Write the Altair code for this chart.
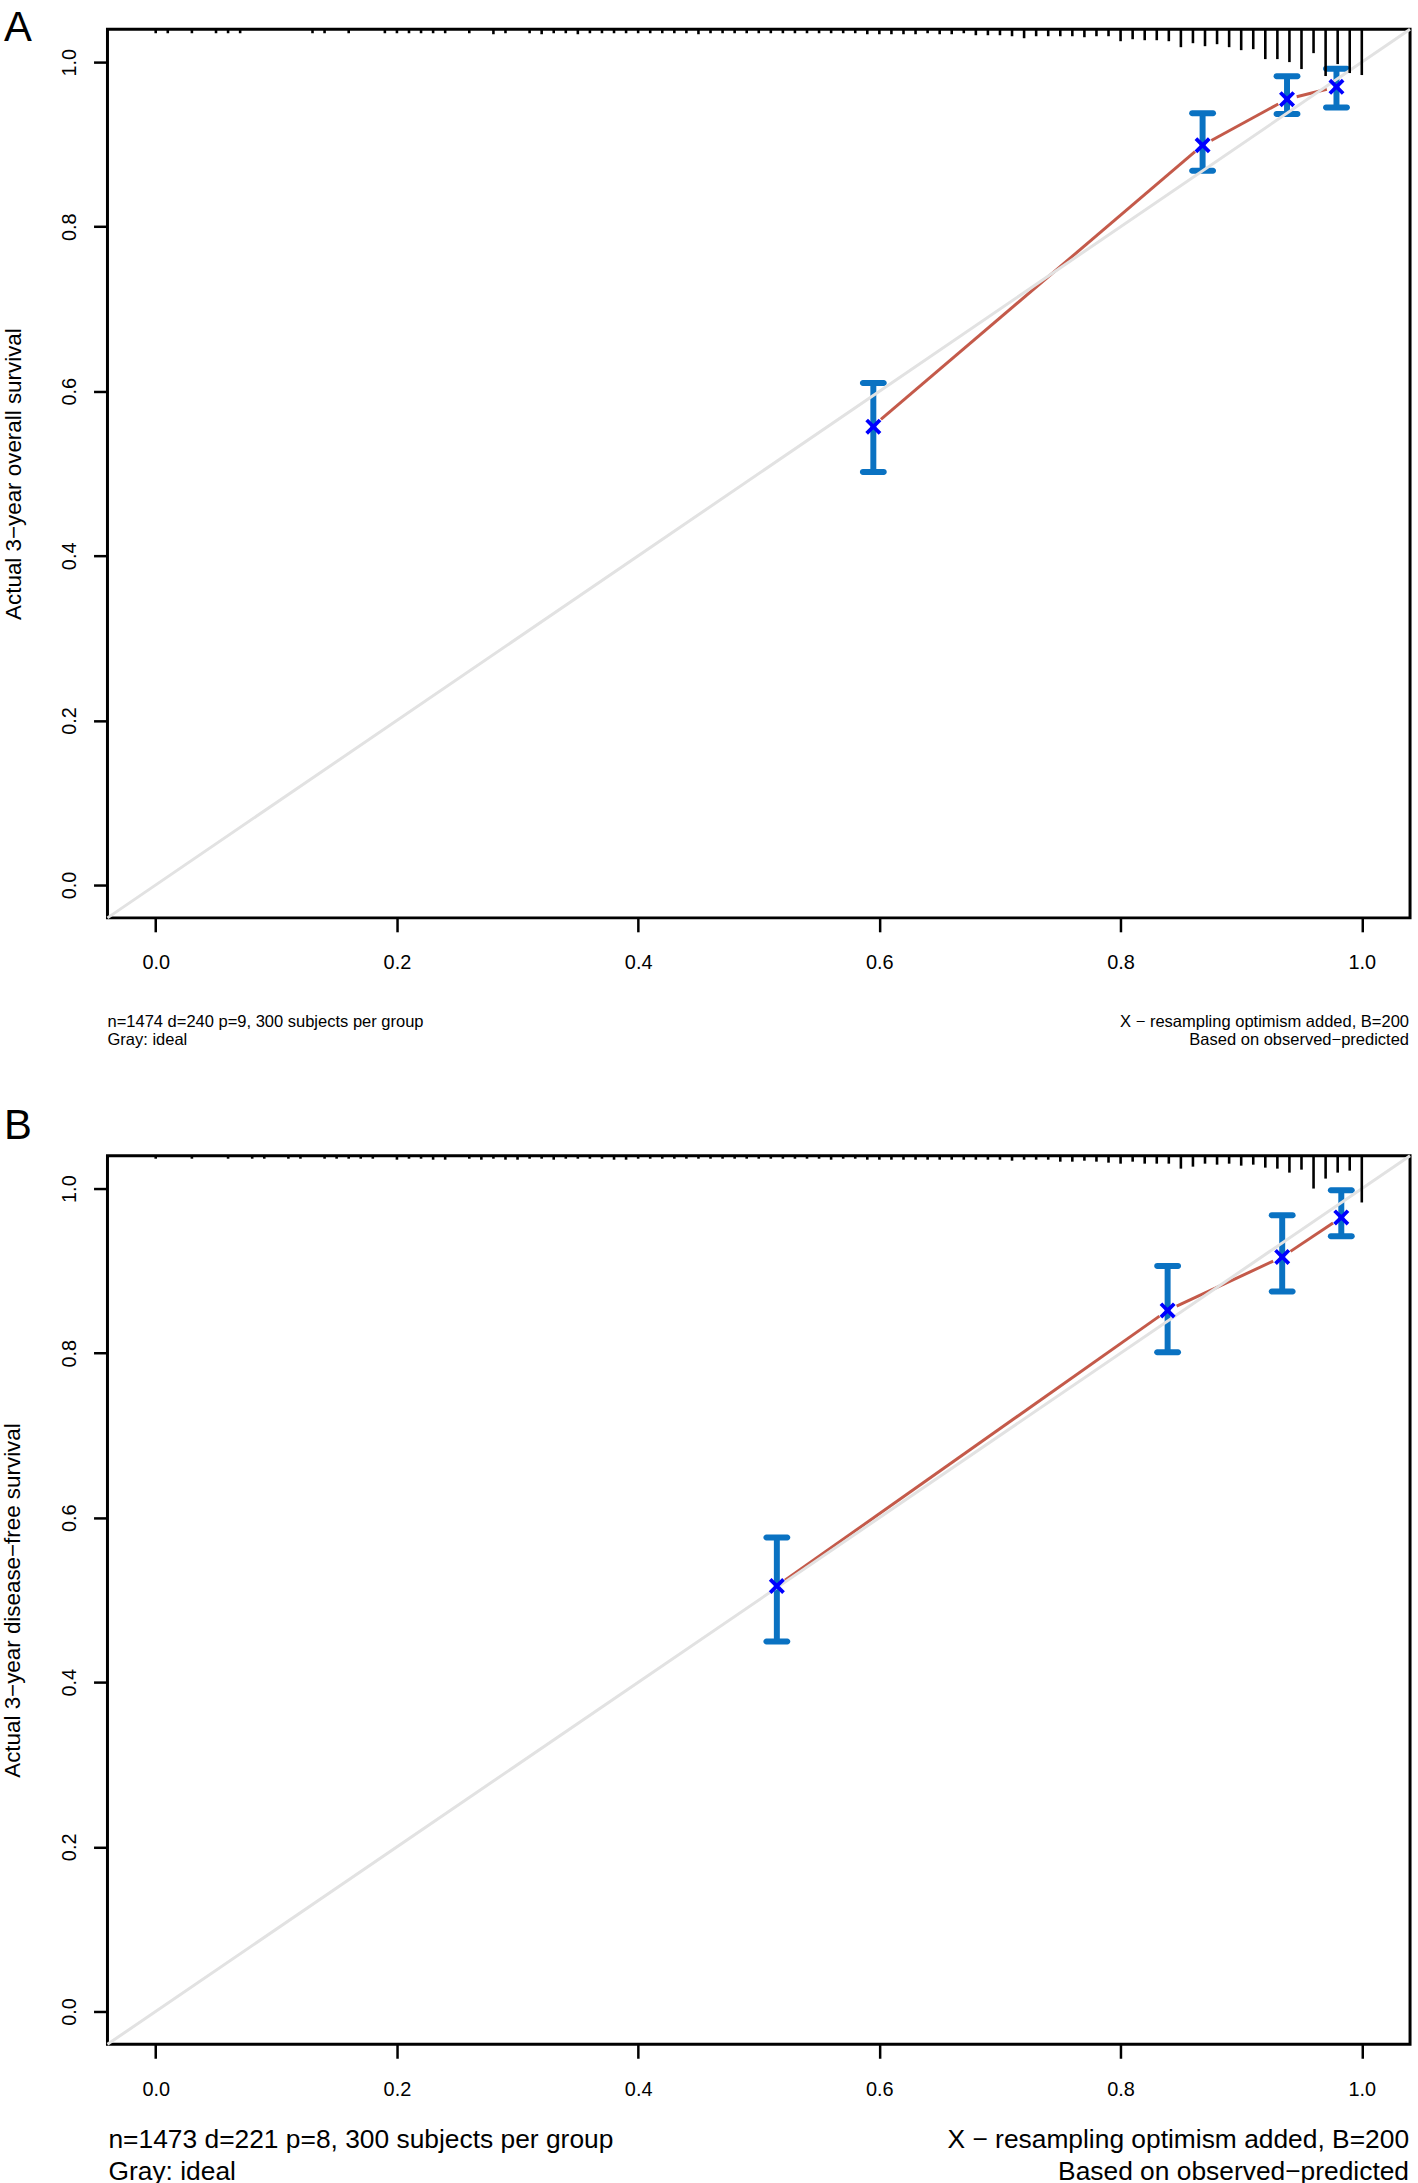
import math
import altair as alt
import pandas as pd

# ---------------- data ----------------
# Panel A : 3-year overall survival
pred_a = [0.595, 0.868, 0.938, 0.979]          # mean predicted
obs_a = [0.558, 0.899, 0.955, 0.970]           # observed (KM)
lo_a = [0.502, 0.868, 0.937, 0.945]            # lower CI
hi_a = [0.610, 0.938, 0.983, 0.992]            # upper CI
corr_a = [0.557, 0.899, 0.955, 0.970]          # optimism-corrected (X)

rug_a_bins = [0.00, 0.01, 0.03, 0.05, 0.06, 0.07, 0.13, 0.14, 0.16, 0.19, 0.20, 0.21,
              0.22, 0.23, 0.24, 0.26, 0.28, 0.29, 0.31, 0.32, 0.33, 0.34, 0.35, 0.36,
              0.37, 0.38, 0.39, 0.40, 0.41, 0.42, 0.43, 0.44, 0.45, 0.46, 0.47, 0.48,
              0.49, 0.50, 0.51, 0.52, 0.53, 0.54, 0.55, 0.56, 0.57, 0.58, 0.59, 0.60,
              0.61, 0.62, 0.63, 0.64, 0.65, 0.66, 0.67, 0.68, 0.69, 0.70, 0.71, 0.72,
              0.73, 0.74, 0.75, 0.76, 0.77, 0.78, 0.79, 0.80, 0.81, 0.82, 0.83, 0.84,
              0.85, 0.86, 0.87, 0.88, 0.89, 0.90, 0.91, 0.92, 0.93, 0.94, 0.95, 0.96,
              0.97, 0.98, 0.99, 1.00]
rug_a_freq = [4, 4, 4, 4, 4, 4, 4, 4, 4, 4, 4, 4,
              4, 4, 4, 4, 5, 4, 4, 5, 4, 4, 5, 4,
              4, 4, 4, 4, 4, 4, 4, 4, 5, 4, 4, 4,
              4, 4, 4, 4, 4, 4, 4, 4, 4, 4, 5, 5,
              5, 5, 5, 4, 5, 5, 4, 6, 6, 6, 7, 9,
              7, 7, 7, 7, 8, 7, 7, 12, 10, 11, 11, 12,
              18, 14, 17, 15, 18, 21, 20, 30, 30, 33, 40, 24,
              47, 35, 44, 46]

# Panel B : 3-year disease-free survival
pred_b = [0.515, 0.839, 0.934, 0.983]
obs_b = [0.517, 0.852, 0.917, 0.965]
lo_b = [0.4495, 0.801, 0.875, 0.942]
hi_b = [0.576, 0.906, 0.9675, 0.998]
corr_b = [0.517, 0.852, 0.917, 0.965]

rug_b_bins = [0.00, 0.03, 0.06, 0.08, 0.09, 0.11, 0.12, 0.14, 0.15, 0.16, 0.17, 0.18,
              0.20, 0.21, 0.22, 0.23, 0.24, 0.26, 0.27, 0.28, 0.29, 0.30, 0.31, 0.32,
              0.33, 0.34, 0.35, 0.36, 0.37, 0.38, 0.39, 0.40, 0.41, 0.42, 0.43, 0.44,
              0.45, 0.46, 0.47, 0.48,
              0.49, 0.50, 0.51, 0.52, 0.53, 0.54, 0.55, 0.56, 0.57, 0.58, 0.59, 0.60,
              0.61, 0.62, 0.63, 0.64, 0.65, 0.66, 0.67, 0.68, 0.69, 0.70, 0.71, 0.72,
              0.73, 0.74, 0.75, 0.76, 0.77, 0.78, 0.79, 0.80, 0.81, 0.82, 0.83, 0.84,
              0.85, 0.86, 0.87, 0.88, 0.89, 0.90, 0.91, 0.92, 0.93, 0.94, 0.95, 0.96,
              0.97, 0.98, 0.99, 1.00]
rug_b_freq = [3, 3, 3, 3, 3, 3, 3, 3, 3, 3, 3, 3,
              4, 3, 3, 4, 4, 3, 4, 3, 4, 4, 3, 3,
              4, 3, 3, 3, 3, 4, 4, 3, 3, 3, 3, 3,
              3, 3, 3, 3,
              3, 3, 3, 3, 3, 3, 3, 4, 3, 3, 4, 4,
              4, 4, 4, 4, 4, 4, 4, 4, 4, 4, 5, 4,
              4, 4, 6, 6, 5, 6, 7, 8, 6, 8, 8, 8,
              13, 11, 8, 9, 8, 10, 9, 12, 13, 17, 14, 33,
              23, 17, 15, 47]

title_a = "Actual 3\u2212year overall survival"
title_b = "Actual 3\u2212year disease\u2212free survival"
sub_left_a = "n=1474 d=240 p=9, 300 subjects per group\nGray: ideal"
sub_left_b = "n=1473 d=221 p=8, 300 subjects per group\nGray: ideal"
sub_right = "X \u2212 resampling optimism added, B=200\nBased on observed\u2212predicted"
tick_vals = [0.0, 0.2, 0.4, 0.6, 0.8, 1.0]

# ---------------- style ----------------
W, H = 1309, 893
LO, HI = -0.04, 1.04
FONT = "Liberation Sans"
RED = "#C45A4A"
BLUE_BAR = "#0A72C2"
BLUE_X = "#0000FF"
GRAY = "#E2E2E2"
GAP = 10  # px gap of the type="b" line around each point
PX_Y = H / (HI - LO)
PX_X = W / (HI - LO)

XSHAPE = "M-1,-1L1,1M-1,1L1,-1"


def panel(pred, obs, lo, hi, corr, rbins, rfreq, ytitle, letter, letter_y,
          sub_left, sub_font, sub_lh, sub_y, sub_left_x, sub_right_x, title_x, lab_pad):
    xscale = alt.Scale(domain=[LO, HI], nice=False, zero=False)
    yscale = alt.Scale(domain=[LO, HI], nice=False, zero=False)
    xaxis = alt.Axis(values=tick_vals, format=".1f", title=None, grid=False, domain=False,
                     tickSize=14, tickWidth=2.5, tickColor="black",
                     labelFont=FONT, labelFontSize=20, labelColor="black",
                     labelPadding=lab_pad, labelFlush=False, labelOverlap=False)
    yaxis = alt.Axis(values=tick_vals, format=".1f", title=ytitle, grid=False, domain=False,
                     tickSize=14, tickWidth=2.5, tickColor="black",
                     labelFont=FONT, labelFontSize=20, labelColor="black",
                     labelAngle=270, labelAlign="center", labelBaseline="alphabetic",
                     labelPadding=18, labelFlush=False, labelOverlap=False,
                     titleFont=FONT, titleFontSize=22.5, titleFontWeight="normal",
                     titleColor="black", titleAngle=270, titleAlign="center",
                     titleBaseline="alphabetic", titleX=title_x, titleY=H / 2)

    def X(f):
        return alt.X(f, type="quantitative", scale=xscale, axis=xaxis)

    def Y(f):
        return alt.Y(f, type="quantitative", scale=yscale, axis=yaxis)

    # rug of predicted risk distribution (spikes from the top border)
    rug = pd.DataFrame({"x": rbins, "freq": rfreq})
    rug["top"] = HI
    rug["bot"] = HI - rug["freq"] / PX_Y
    rug_l = alt.Chart(rug).mark_rule(color="black", strokeWidth=2.6).encode(
        x=X("x"), y=Y("top"), y2="bot")

    # red apparent line with gaps around points
    segs = []
    for i in range(len(pred) - 1):
        dx = (pred[i + 1] - pred[i]) * PX_X
        dy = (obs[i + 1] - obs[i]) * PX_Y
        L = math.hypot(dx, dy)
        g = GAP / L
        segs.append({
            "x": pred[i] + (pred[i + 1] - pred[i]) * g,
            "y": obs[i] + (obs[i + 1] - obs[i]) * g,
            "x2": pred[i + 1] - (pred[i + 1] - pred[i]) * g,
            "y2": obs[i + 1] - (obs[i + 1] - obs[i]) * g,
        })
    seg_l = alt.Chart(pd.DataFrame(segs)).mark_rule(color=RED, strokeWidth=3).encode(
        x=X("x"), y=Y("y"), x2="x2", y2="y2")

    pts = pd.DataFrame({"pred": pred, "obs": obs, "lo": lo, "hi": hi, "corr": corr})
    bar_l = alt.Chart(pts).mark_rule(color=BLUE_BAR, strokeWidth=6).encode(
        x=X("pred"), y=Y("lo"), y2="hi")
    cap_lo = alt.Chart(pts).mark_tick(color=BLUE_BAR, orient="horizontal", size=27,
                                      thickness=6, cornerRadius=3, opacity=1).encode(
        x=X("pred"), y=Y("lo"))
    cap_hi = alt.Chart(pts).mark_tick(color=BLUE_BAR, orient="horizontal", size=27,
                                      thickness=6, cornerRadius=3, opacity=1).encode(
        x=X("pred"), y=Y("hi"))

    ideal = pd.DataFrame({"x": [LO, HI], "y": [LO, HI]})
    ideal_l = alt.Chart(ideal).mark_line(color=GRAY, strokeWidth=3).encode(
        x=X("x"), y=Y("y"))

    x_l = alt.Chart(pts).mark_point(shape=XSHAPE, size=180, color=BLUE_X, strokeWidth=3.8,
                                    filled=False, opacity=1).encode(
        x=X("pred"), y=Y("corr"))

    lab = alt.Chart(pd.DataFrame({"t": [letter]})).mark_text(
        align="left", baseline="alphabetic", fontSize=42, font=FONT, color="black").encode(
        x=alt.value(-104), y=alt.value(letter_y), text="t:N")

    sl = alt.Chart(pd.DataFrame({"t": [sub_left]})).mark_text(
        align="left", baseline="middle", fontSize=sub_font, font=FONT, color="black",
        lineBreak="\n", lineHeight=sub_lh).encode(
        x=alt.value(sub_left_x), y=alt.value(sub_y), text="t:N")
    sr = alt.Chart(pd.DataFrame({"t": [sub_right]})).mark_text(
        align="right", baseline="middle", fontSize=sub_font, font=FONT, color="black",
        lineBreak="\n", lineHeight=sub_lh).encode(
        x=alt.value(sub_right_x), y=alt.value(sub_y), text="t:N")

    return alt.layer(seg_l, bar_l, cap_lo, cap_hi, ideal_l, x_l, rug_l, lab, sl, sr).properties(
        width=W, height=H)


pa = panel(pred_a, obs_a, lo_a, hi_a, corr_a, rug_a_bins, rug_a_freq, title_a, "A", 12,
           sub_left_a, 16.6, 18, 998, 0, W - 1, -87, 21)
pb = panel(pred_b, obs_b, lo_b, hi_b, corr_b, rug_b_bins, rug_b_freq, title_b, "B", -17,
           sub_left_b, 26.5, 32, 989, 1, W - 1, -88, 21)

chart = alt.vconcat(pa, pb, spacing=52).properties(
    padding=0, background="white").configure_view(stroke="black", strokeWidth=3)

chart.save("out.html", embed_options={"renderer": "svg", "actions": False})
